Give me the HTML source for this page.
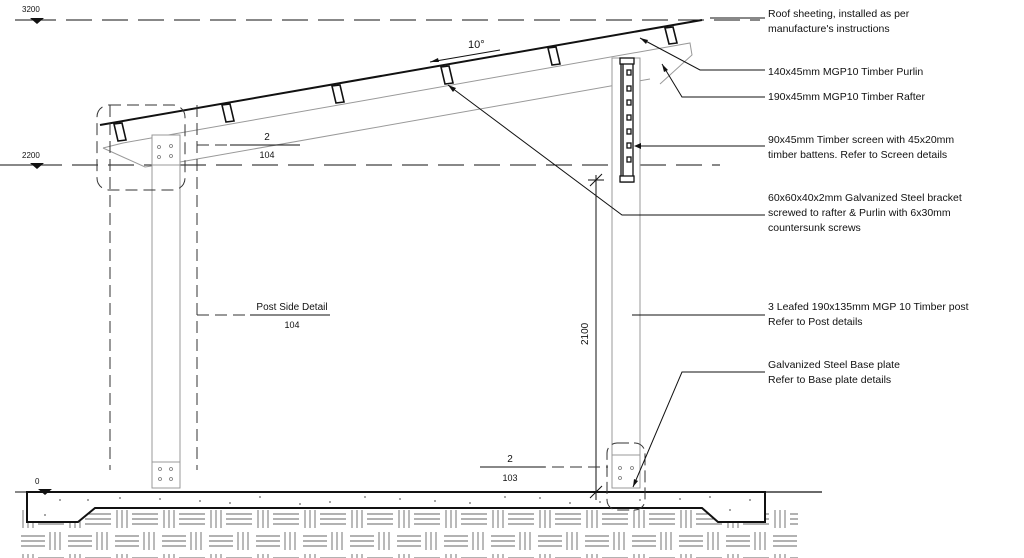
<!DOCTYPE html>
<html><head><meta charset="utf-8"><style>
html,body{margin:0;padding:0;background:#fff;}
svg{display:block;font-family:"Liberation Sans",sans-serif;}
</style></head><body>
<svg width="1024" height="558" viewBox="0 0 1024 558" xmlns="http://www.w3.org/2000/svg">
<defs>
<pattern id="brk" x="20" y="509" width="47" height="44" patternUnits="userSpaceOnUse">
<g stroke="#666" stroke-width="0.9" fill="none">
<path d="M3 1v18M8 1v18M13 1v18"/>
<path d="M18 5h26M18 10h26M18 15h26"/>
<path d="M1 27h24M1 32h24M1 37h24"/>
<path d="M30 23v18M35 23v18M40 23v18"/>
</g>
</pattern>
</defs>
<rect width="1024" height="558" fill="#fff"/>
<!-- ground brick -->
<rect x="18" y="505" width="780" height="53" fill="url(#brk)"/>
<!-- slab -->
<path d="M27 492 H765 V522 H718 L702 508 H95 L78 522 H27 Z" fill="#fff" stroke="#111" stroke-width="2"/>
<line x1="765" y1="492" x2="822" y2="492" stroke="#111" stroke-width="1.3"/>
<g fill="#666">
<circle cx="60" cy="500" r="0.9"/><circle cx="120" cy="498" r="0.9"/><circle cx="200" cy="501" r="0.9"/><circle cx="260" cy="497" r="0.9"/><circle cx="330" cy="502" r="0.9"/><circle cx="400" cy="499" r="0.9"/><circle cx="470" cy="503" r="0.9"/><circle cx="540" cy="498" r="0.9"/><circle cx="600" cy="502" r="0.9"/><circle cx="680" cy="499" r="0.9"/><circle cx="730" cy="510" r="0.9"/><circle cx="45" cy="515" r="0.9"/><circle cx="88" cy="500" r="0.9"/><circle cx="300" cy="504" r="0.9"/><circle cx="750" cy="500" r="0.9"/>
<circle cx="160" cy="499" r="0.9"/><circle cx="230" cy="503" r="0.9"/><circle cx="365" cy="497" r="0.9"/><circle cx="435" cy="501" r="0.9"/><circle cx="505" cy="497" r="0.9"/><circle cx="570" cy="503" r="0.9"/><circle cx="640" cy="500" r="0.9"/><circle cx="710" cy="497" r="0.9"/>
</g>
<!-- level lines -->
<g stroke="#111" stroke-width="1" stroke-dasharray="26,10">
<line x1="30" y1="20" x2="760" y2="20"/>
<line x1="0" y1="165" x2="330" y2="165"/>
<line x1="330" y1="165" x2="620" y2="165"/>
<line x1="640" y1="165" x2="720" y2="165"/>
</g>
<g font-size="8" fill="#111">
<text x="22" y="12">3200</text><text x="22" y="158">2200</text><text x="35" y="484">0</text>
</g>
<path d="M30 18h14l-7 6z M30 163h14l-7 6z M38 489h14l-7 6z" fill="#111"/>
<line x1="15" y1="20" x2="45" y2="20" stroke="#111"/>
<line x1="15" y1="165" x2="45" y2="165" stroke="#111"/>
<line x1="15" y1="492" x2="40" y2="492" stroke="#111"/>
<!-- rafter -->
<path d="M123 143 L690 43 L692 55 L660 84 M180 162 L650 79 M103 148 L145 167 L180 162 M103 148 L123 143" fill="none" stroke="#999" stroke-width="1"/>
<!-- roof sheet -->
<line x1="100" y1="125" x2="702" y2="20" stroke="#111" stroke-width="2"/>
<!-- purlins -->
<g fill="#fff" stroke="#111" stroke-width="1.6">
<path d="M114 124l8-1 4 17-8 1z"/>
<path d="M222 105l8-1 4 17-8 1z"/>
<path d="M332 86l8-1 4 17-8 1z"/>
<path d="M441 67l8-1 4 17-8 1z"/>
<path d="M548 48l8-1 4 17-8 1z"/>
<path d="M665 28l8-1 4 16-8 1z"/>
</g>
<!-- 10 deg -->
<text x="468" y="48" font-size="11" fill="#111">10°</text>
<path d="M500 50 L430 62" stroke="#111"/><path d="M430 62l8-4 1 4z" fill="#111"/>
<!-- left post -->
<g fill="#fff" stroke="#999" stroke-width="1">
<rect x="152" y="135" width="28" height="353"/>
<rect x="152" y="135" width="28" height="30"/>
<rect x="152" y="462" width="28" height="26"/>
</g>
<g fill="none" stroke="#777" stroke-width="0.8">
<circle cx="159" cy="147" r="1.5"/><circle cx="171" cy="146" r="1.5"/><circle cx="159" cy="157" r="1.5"/><circle cx="171" cy="156" r="1.5"/>
<circle cx="160" cy="469" r="1.5"/><circle cx="171" cy="469" r="1.5"/><circle cx="160" cy="479" r="1.5"/><circle cx="171" cy="479" r="1.5"/>
</g>
<!-- left detail dashed -->
<g fill="none" stroke="#333" stroke-width="1" stroke-dasharray="12,6">
<rect x="97" y="105" width="88" height="85" rx="12"/>
<line x1="110" y1="105" x2="110" y2="470"/>
<line x1="197" y1="105" x2="197" y2="470"/>
<line x1="197" y1="315" x2="258" y2="315"/>
<line x1="197" y1="145" x2="255" y2="145"/>
</g>
<line x1="230" y1="145" x2="300" y2="145" stroke="#111"/>
<line x1="250" y1="315" x2="330" y2="315" stroke="#111"/>
<g font-size="10" fill="#111" text-anchor="middle">
<text x="267" y="140">2</text><text x="267" y="158" font-size="9">104</text>
<text x="292" y="310">Post Side Detail</text><text x="292" y="328" font-size="9">104</text>
<text x="510" y="462">2</text><text x="510" y="481" font-size="9">103</text>
</g>
<!-- right post -->
<g fill="#fff" stroke="#999" stroke-width="1">
<rect x="612" y="58" width="28" height="430"/>
</g>
<!-- screen -->
<g fill="#fff" stroke="#111" stroke-width="1.3">
<rect x="621" y="60" width="12" height="122"/>
<rect x="620" y="58" width="14" height="6"/>
<rect x="620" y="176" width="14" height="6"/>
<path d="M623 64v112"/>
<rect x="627" y="70" width="4" height="5"/><rect x="627" y="86" width="4" height="5"/><rect x="627" y="100" width="4" height="5"/><rect x="627" y="115" width="4" height="5"/><rect x="627" y="129" width="4" height="5"/><rect x="627" y="143" width="4" height="5"/><rect x="627" y="157" width="4" height="5"/>
</g>
<!-- 2100 dim -->
<line x1="596" y1="175" x2="596" y2="500" stroke="#111"/>
<line x1="588" y1="180" x2="604" y2="180" stroke="#111"/>
<line x1="590" y1="186" x2="602" y2="174" stroke="#111"/>
<line x1="590" y1="498" x2="602" y2="486" stroke="#111"/>
<text x="588" y="345" font-size="10" fill="#111" transform="rotate(-90 588 345)">2100</text>
<!-- right base detail -->
<rect x="607" y="443" width="38" height="67" rx="10" fill="none" stroke="#333" stroke-dasharray="12,5"/>
<rect x="612" y="455" width="28" height="33" fill="#fff" stroke="#999"/>
<g fill="none" stroke="#777" stroke-width="0.8"><circle cx="620" cy="468" r="1.5"/><circle cx="632" cy="468" r="1.5"/><circle cx="620" cy="478" r="1.5"/></g>
<line x1="480" y1="467" x2="608" y2="467" stroke="#333" stroke-dasharray="12,6"/>
<line x1="480" y1="467" x2="545" y2="467" stroke="#111"/>
<!-- leaders -->
<g stroke="#111" stroke-width="1" fill="none">
<path d="M765 18 H710"/>
<path d="M765 70 H700 L640 38"/>
<path d="M765 97 H682 L662 64"/>
<path d="M765 146 H635"/>
<path d="M765 215 H622 L448 85"/>
<path d="M765 315 H632"/>
<path d="M765 372 H682 L633 487"/>
</g>
<g fill="#111">
<path d="M640 38l8 2-2 4z"/><path d="M662 64l6 6-4 2z"/><path d="M634 146l7-3v6z"/><path d="M448 85l8 3-3 4z"/><path d="M633 487l1-8 4 2z"/>
</g>
<!-- labels -->
<g font-size="10.5" fill="#111">
<text x="768" y="17">Roof sheeting, installed as per</text>
<text x="768" y="32">manufacture's instructions</text>
<text x="768" y="75">140x45mm MGP10 Timber Purlin</text>
<text x="768" y="100">190x45mm MGP10 Timber Rafter</text>
<text x="768" y="143">90x45mm Timber screen with 45x20mm</text>
<text x="768" y="158">timber battens. Refer to Screen details</text>
<text x="768" y="201">60x60x40x2mm Galvanized Steel bracket</text>
<text x="768" y="216">screwed to rafter &amp; Purlin with 6x30mm</text>
<text x="768" y="231">countersunk screws</text>
<text x="768" y="310">3 Leafed 190x135mm MGP 10 Timber post</text>
<text x="768" y="325">Refer to Post details</text>
<text x="768" y="368">Galvanized Steel Base plate</text>
<text x="768" y="383">Refer to Base plate details</text>
</g>
</svg>
</body></html>
